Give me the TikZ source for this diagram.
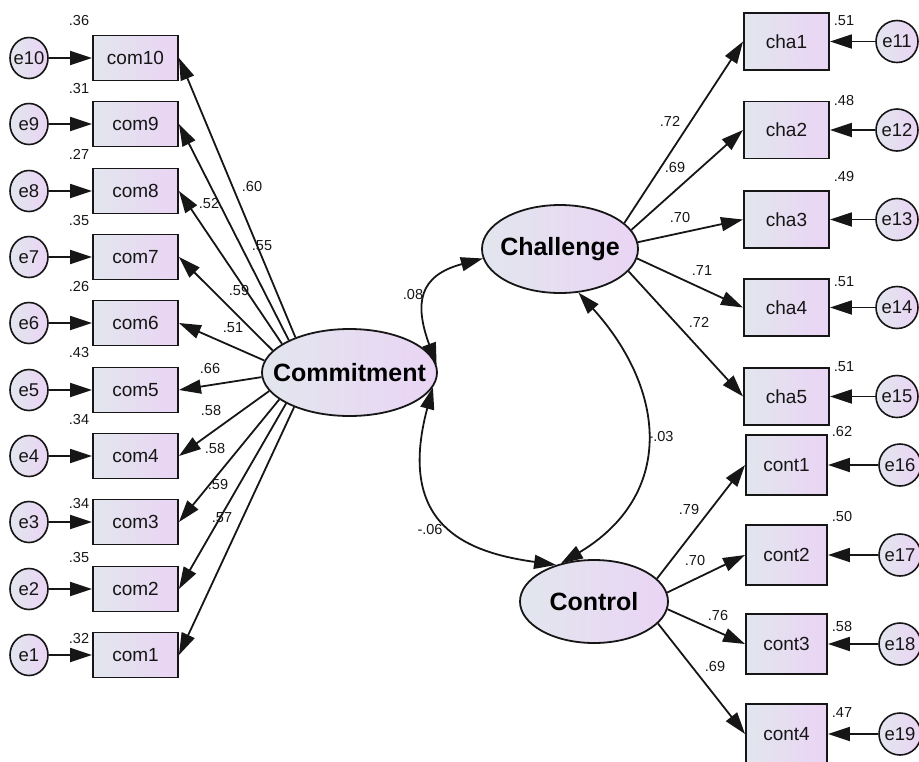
\documentclass[tikz,border=0pt]{standalone}
\usepackage{fontspec}
\setmainfont{Liberation Sans}
\usetikzlibrary{arrows.meta,shapes.geometric}
\definecolor{nodeL}{RGB}{226,230,238}
\definecolor{nodeR}{RGB}{234,212,244}
\definecolor{ink}{RGB}{22,22,22}
\begin{document}
\begin{tikzpicture}[x=1pt,y=1pt,
  obsbox/.style={draw=ink, line width=1.9pt, left color=nodeL, right color=nodeR,
    minimum width=85pt, minimum height=45pt, inner sep=0pt, text=ink,
    font=\fontsize{19}{21}\selectfont},
  errc/.style={ellipse, draw=ink, line width=1.6pt, left color=nodeL, right color=nodeR,
    inner sep=0pt, text=ink, font=\fontsize{18.5}{20}\selectfont},
  latent/.style={ellipse, draw=ink, line width=1.8pt, left color=nodeL, right color=nodeR,
    inner sep=0pt, text=black, font=\fontsize{25}{27}\selectfont\bfseries},
  numlbl/.style={inner sep=0pt, text=ink, font=\fontsize{14.5}{16}\selectfont},
  ldarrow/.style={line width=1.8pt, draw=ink, -{Triangle[length=22pt,width=14pt]}},
  covarc/.style={line width=1.8pt, draw=ink,
    {Triangle[length=22pt,width=14pt]}-{Triangle[length=22pt,width=14pt]}},
]
\useasboundingbox (0,0) rectangle (919,-761);

% ---------- Commitment side ----------
\node[latent, minimum width=175pt, minimum height=87pt] (Com) at (349.5,-372.5) {\makebox[0pt]{Commitment}};

\foreach \i/\y/\v/\vy/\a/\lx/\ly/\l in {
  10/58/.36/21/147/252/187/.60,
  9/124/.31/89/152/262/246/.55,
  8/191/.27/154/157/209/204/.52,
  7/257/.35/221/164/239/291/.59,
  6/323/.26/287/172/233/328/.51,
  5/390/.43/353/183/210/369/.66,
  4/456/.34/420/193/211/411/.58,
  3/522/.34/504/201/215/449/.58,
  2/589/.35/558/206/218/485/.59,
  1/655/.32/638/212/222/518/.57} {
  \node[errc, minimum width=38pt, minimum height=41pt] (e\i) at (29,-\y) {\makebox[0pt]{e\i}};
  \node[obsbox] (com\i) at (135.5,-\y) {com\i};
  \node[numlbl] (r\i) at (79,-\vy) {\v};
  \draw[ldarrow] (e\i) -- (com\i);
  \draw[ldarrow] (Com.\a) -- (com\i.east);
  \node[numlbl] (lc\i) at (\lx,-\ly) {\l};
}

% ---------- Challenge side ----------
\node[latent, minimum width=156pt, minimum height=88pt] (Cha) at (560,-249) {\makebox[0pt]{Challenge}};

\foreach \i/\y/\v/\vy/\a/\lx/\ly/\l in {
  1/41.5/.51/21/22/670/121/.72,
  2/130/.48/101/15/675/168/.69,
  3/219.5/.49/177/5/680/218/.70,
  4/307.5/.51/282/-7/702/271/.71,
  5/396.5/.51/367/-18/699/322/.72} {
  \pgfmathtruncatemacro{\en}{\i+10}
  \node[obsbox, minimum height=57pt] (cha\i) at (786.5,-\y) {cha\i};
  \node[errc, minimum size=42pt] (e\en) at (897,-\y) {\makebox[0pt]{e\en}};
  \node[numlbl] (rc\i) at (844,-\vy) {\v};
  \draw[ldarrow] (e\en) -- (cha\i);
  \draw[ldarrow] (Cha.\a) -- (cha\i.west);
  \node[numlbl] (lh\i) at (\lx,-\ly) {\l};
}

% ---------- Control side ----------
\node[latent, minimum width=148pt, minimum height=83pt] (Con) at (594,-601.5) {\makebox[0pt]{Control}};

\foreach \i/\y/\v/\vy/\a/\lx/\ly/\l in {
  1/465/.62/432/20/689/510/.79,
  2/555/.50/517/7/695/561/.70,
  3/644/.58/627/-6/718/615/.76,
  4/734/.47/713/-19/715/666/.69} {
  \pgfmathtruncatemacro{\en}{\i+15}
  \node[obsbox, minimum width=81pt, minimum height=60pt] (cont\i) at (786.5,-\y) {cont\i};
  \node[errc, minimum size=42pt] (e\en) at (900,-\y) {\makebox[0pt]{e\en}};
  \node[numlbl] (rt\i) at (842,-\vy) {\v};
  \draw[ldarrow] (e\en) -- (cont\i);
  \draw[ldarrow] (Con.\a) -- (cont\i.west);
  \node[numlbl] (lt\i) at (\lx,-\ly) {\l};
}

% ---------- covariances ----------
\draw[covarc] (Com.5) to[out=110, in=195, out distance=66pt, in distance=66pt] (Cha.187);
\draw[covarc] (Com.-10) to[out=255, in=172, out distance=145pt, in distance=88pt] (Con.136);
\draw[covarc] (Cha.-67) to[out=-48, in=31, looseness=1.25] (Con.131);
\node[numlbl] (k1) at (413,-295) {.08};
\node[numlbl] (k2) at (430,-530) {-.06};
\node[numlbl] (k3) at (661,-437) {-.03};
\end{tikzpicture}
\end{document}
